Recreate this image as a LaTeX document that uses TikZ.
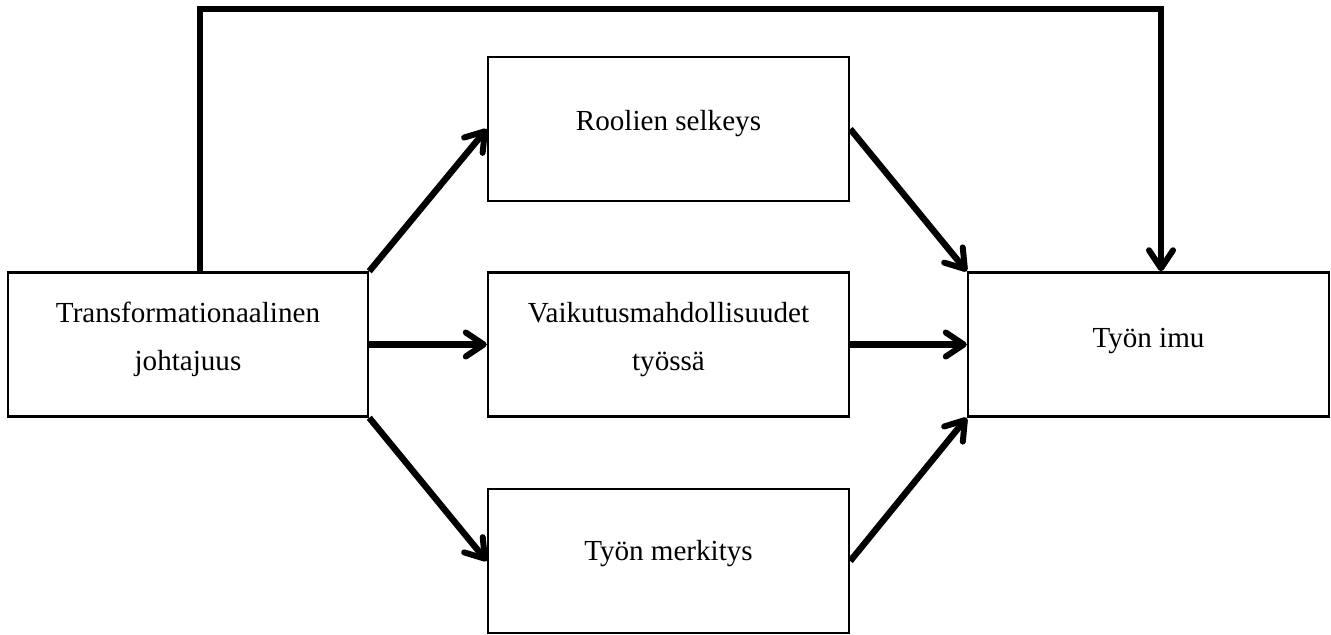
\documentclass[tikz,border=0pt]{standalone}
\usepackage{fontspec}
\setmainfont{Liberation Serif}
\usetikzlibrary{arrows.meta}
\tikzset{
  box/.style={draw, line width=1.25pt, rectangle, inner sep=0pt, align=center,
    minimum width=180.5pt, minimum height=72pt,
    font=\fontsize{14.55pt}{24pt}\selectfont},
  oneline/.style={text height=8pt, text depth=7pt},
  twoline/.style={text height=32pt, text depth=6.5pt},
  conn/.style={line width=3.2pt, -{Straight Barb[length=9pt, width=12pt, line width=3pt, round]}},
}
\begin{document}
\begin{tikzpicture}[x=0.5pt, y=-0.5pt]
\useasboundingbox (0,0) rectangle (1331,634);
\node[box, twoline, minimum width=180pt] (tl) at (188,344.5) {Transformationaalinen\\johtajuus};
\node[box, oneline] (rs) at (668.5,129) {Roolien selkeys};
\node[box, twoline] (vm) at (668.5,344.5) {Vaikutusmahdollisuudet\\työssä};
\node[box, text height=7pt, text depth=8pt] (tm) at (668.5,561) {Työn merkitys};
\node[box, text height=9pt, text depth=6.5pt] (imu) at (1148.5,344.5) {Työn imu};
\coordinate (c1) at (200,9);
\coordinate (c2) at (1161,9);
\draw[conn] (tl.north east) -- (rs.west);
\draw[conn] (tl.east) -- (vm.west);
\draw[conn] (tl.south east) -- (tm.west);
\draw[conn] (rs.east) -- (imu.north west);
\draw[conn] (vm.east) -- (imu.west);
\draw[conn] (tm.east) -- (imu.south west);
\draw[conn] (tl.north -| c1) |- (c2) -- (imu.north -| c2);
\end{tikzpicture}
\end{document}
